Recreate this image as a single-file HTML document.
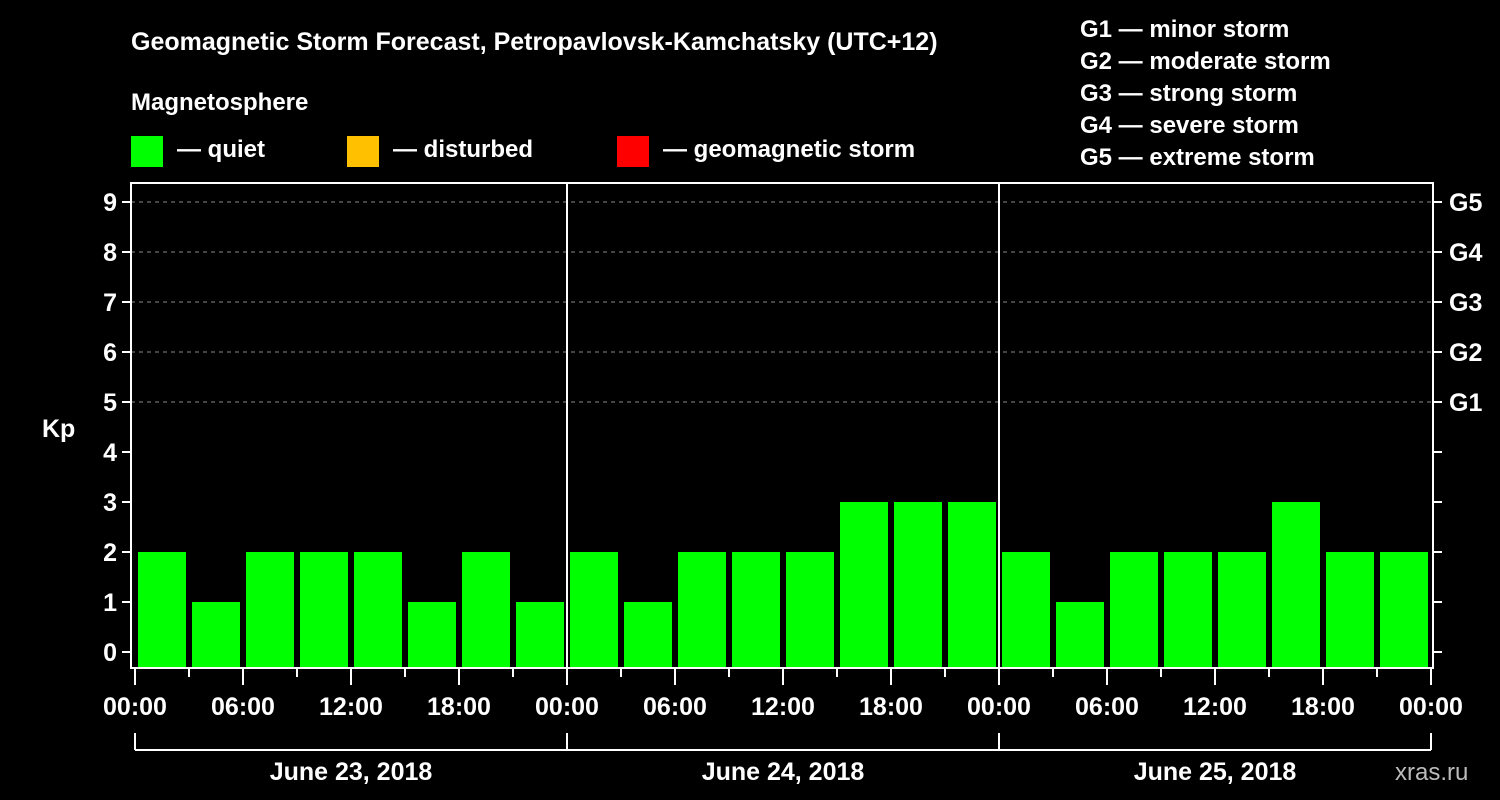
<!DOCTYPE html>
<html><head><meta charset="utf-8"><style>
html,body{margin:0;padding:0;background:#000;}
svg{display:block;font-family:"Liberation Sans",Arial,sans-serif;font-weight:bold;}
</style></head><body>
<svg width="1500" height="800" viewBox="0 0 1500 800">
<rect width="1500" height="800" fill="#000"/>
<text x="131" y="50" fill="#fff" font-size="25">Geomagnetic Storm Forecast, Petropavlovsk-Kamchatsky (UTC+12)</text>
<text x="131" y="110" fill="#fff" font-size="24">Magnetosphere</text>
<g><rect x="131" y="136" width="32" height="31" fill="#00ff00"/><text x="177" y="157" fill="#fff" font-size="24">— quiet</text></g>
<g><rect x="347" y="136" width="32" height="31" fill="#ffc000"/><text x="393" y="157" fill="#fff" font-size="24">— disturbed</text></g>
<g><rect x="617" y="136" width="32" height="31" fill="#ff0000"/><text x="663" y="157" fill="#fff" font-size="24">— geomagnetic storm</text></g>
<g fill="#fff" font-size="24">
<text x="1080" y="37">G1 — minor storm</text>
<text x="1080" y="69">G2 — moderate storm</text>
<text x="1080" y="101">G3 — strong storm</text>
<text x="1080" y="133">G4 — severe storm</text>
<text x="1080" y="165">G5 — extreme storm</text>
</g>
<text x="42" y="437" fill="#fff" font-size="25">Kp</text>
<text x="1395" y="780" fill="#bbb" font-size="24" font-weight="normal">xras.ru</text>
<g id="grid"></g><g id="bars"></g><g id="axes"></g>
</svg>
<script>
const kpValues = [2,1,2,2,2,1,2,1, 2,1,2,2,2,3,3,3, 2,1,2,2,2,3,2,2];
const dayLabels = ["June 23, 2018","June 24, 2018","June 25, 2018"];
const hourLabels = ["00:00","06:00","12:00","18:00"];
const yTicks = [0,1,2,3,4,5,6,7,8,9];
const gLabels = ["G1","G2","G3","G4","G5"];
const NS="http://www.w3.org/2000/svg";
const L=131,R=1433,T=183,B=668,X0=135,DAY=432;
const y=v=>652-50*v;
const x=slot=>X0+slot*54;
function mk(tag,attrs,parent,text){const e=document.createElementNS(NS,tag);for(const k in attrs)e.setAttribute(k,attrs[k]);if(text!==undefined)e.textContent=text;parent.appendChild(e);return e;}
const grid=document.getElementById('grid'),bars=document.getElementById('bars'),axes=document.getElementById('axes');
for(let v=5;v<=9;v++){const g=mk('line',{x1:L,x2:R,y1:y(v),y2:y(v),stroke:'#888','stroke-dasharray':'4,4','stroke-width':1},grid);

}
kpValues.forEach((v,i)=>{const col=v>=5?'#ff0000':(v>=4?'#ffc000':'#00ff00');
const r=mk('rect',{x:x(i)+3,y:y(v),width:48,height:B-y(v),fill:col},bars);

});
const f=mk('rect',{x:L,y:T,width:R-L,height:B-T,fill:'none',stroke:'#fff','stroke-width':2},axes);


for(let d=1;d<dayLabels.length;d++){const s=mk('line',{x1:X0+d*DAY,x2:X0+d*DAY,y1:T,y2:B,stroke:'#fff','stroke-width':2},axes);

}
yTicks.forEach(v=>{mk('line',{x1:L-9,x2:L,y1:y(v),y2:y(v),stroke:'#fff','stroke-width':2},axes);
mk('line',{x1:R,x2:R+9,y1:y(v),y2:y(v),stroke:'#fff','stroke-width':2},axes);
const t=mk('text',{x:L-14,y:y(v)+9,fill:'#fff','font-size':25,'text-anchor':'end'},axes,String(v));

});
gLabels.forEach((g,i)=>{const t=mk('text',{x:1449,y:y(5+i)+9,fill:'#fff','font-size':25},axes,g);

});
const nSlots=dayLabels.length*8;
for(let s=0;s<=nSlots;s++){const long=s%2===0;mk('line',{x1:x(s),x2:x(s),y1:B,y2:B+(long?17:9),stroke:'#fff','stroke-width':2},axes);
if(long){const t=mk('text',{x:x(s),y:715,fill:'#fff','font-size':25,'text-anchor':'middle'},axes,hourLabels[(s/2)%4]);

}}
mk('line',{x1:X0,x2:X0+dayLabels.length*DAY,y1:750,y2:750,stroke:'#fff','stroke-width':2},axes);
for(let d=0;d<=dayLabels.length;d++)mk('line',{x1:X0+d*DAY,x2:X0+d*DAY,y1:733,y2:750,stroke:'#fff','stroke-width':2},axes);
dayLabels.forEach((d,i)=>{const t=mk('text',{x:X0+i*DAY+DAY/2,y:780,fill:'#fff','font-size':25,'text-anchor':'middle'},axes,d);

});
</script>
</body></html>
